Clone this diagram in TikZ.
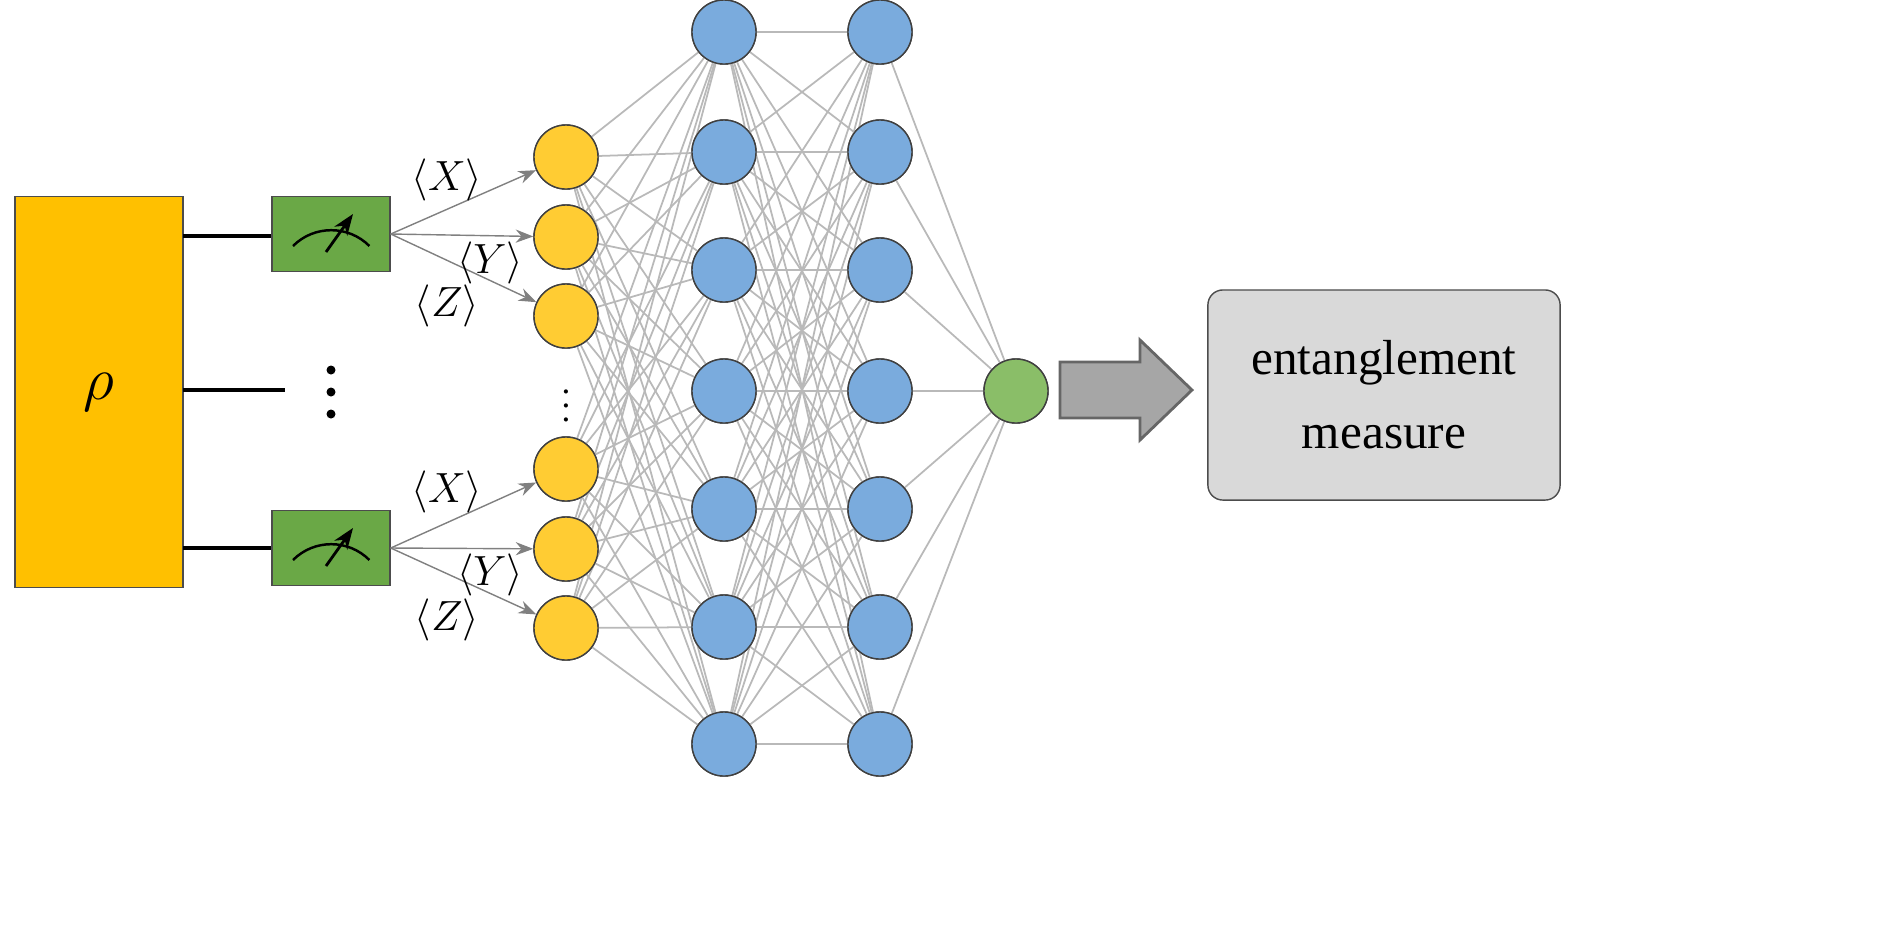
\documentclass[tikz,border=0pt]{standalone}
\usepackage{fontspec}
\setmainfont{Liberation Serif}
\usetikzlibrary{arrows.meta}
\definecolor{rhoc}{RGB}{255,192,0}
\definecolor{inpc}{RGB}{255,204,51}
\definecolor{hidc}{RGB}{122,171,221}
\definecolor{outc}{RGB}{138,190,104}
\definecolor{meterc}{RGB}{106,168,70}
\begin{document}
\begin{tikzpicture}[x=0.01cm,y=-0.01cm]
    \tikzset{
        neuron/.style = {
            draw = black!75,
            circle,
            inner sep = 0pt,
            minimum size = 0.64cm
        },
        inp/.style = {neuron, fill = inpc},
        hid/.style = {neuron, fill = hidc},
        outn/.style = {neuron, fill = outc},
        wire/.style = {gray!55, line width = 0.5pt},
        meter/.style = {draw = black!70, fill = meterc, minimum width = 1.18cm, minimum height = 0.75cm, inner sep = 0pt},
        lbl/.style = {font = \fontsize{12}{14}\selectfont}
    }
    \useasboundingbox (0,0) rectangle (1881,935);

    % state
    \node[draw = black!70, fill = rhoc, minimum width = 1.68cm, minimum height = 3.91cm, inner sep = 0pt] (rho) at (99,392) {\fontsize{18}{22}\selectfont$\rho$};

    % measurements
    \node[meter] (m1) at (331,234) {};
    \node[meter] (m2) at (331,548) {};
    \foreach \m in {m1, m2}{
        \draw[line width = 0.7pt] ([shift = {(-38,12)}]\m.center) arc[start angle = 135, end angle = 45, radius = 0.54cm];
        \draw[-{Stealth[length = 6pt]}, line width = 0.8pt] ([shift = {(-5,18)}]\m.center) -- ([shift = {(22,-20)}]\m.center);
    }
    \coordinate (w1) at (183,236);
    \coordinate (w2) at (183,390);
    \coordinate (w3) at (183,548);
    \coordinate (w2e) at (285,390);
    \draw[line width = 1.2pt] (w1) -- (w1 -| m1.west);
    \draw[line width = 1.2pt] (w3) -- (w3 -| m2.west);
    \draw[line width = 1.2pt] (w2) -- (w2e);
    \foreach \y in {370, 392, 414}{
        \fill (331,\y) circle (0.045cm);
    }

    % input layer
    \foreach \y [count = \i] in {157, 237, 316, 469, 549, 628}{
        \node[inp] (a\i) at (566,\y) {};
    }
    \node[font = \fontsize{10}{12}\selectfont] (vd) at (566,395) {$\vdots$};
    \foreach \y [count = \i] in {32, 152, 270, 391, 509, 627, 744}{
        \node[hid] (b\i) at (724,\y) {};
        \node[hid] (c\i) at (880,\y) {};
    }
    \node[outn] (o) at (1016,391) {};

    % meter arrows
    \foreach \m/\s in {m1/0, m2/3}{
        \foreach \k in {1, 2, 3}{
            \pgfmathtruncatemacro{\t}{\s + \k}
            \draw[gray, -{Stealth[length = 5pt]}] (\m.east) -- (a\t);
        }
    }
    \node[lbl] (x1) at (447,180) {$\langle X\rangle$};
    \node[lbl] (y1) at (490,263) {$\langle Y\rangle$};
    \node[lbl] (z1) at (447,306) {$\langle Z\rangle$};
    \node[lbl] (x2) at (447,492) {$\langle X\rangle$};
    \node[lbl] (y2) at (490,575) {$\langle Y\rangle$};
    \node[lbl] (z2) at (447,620) {$\langle Z\rangle$};

    % connections
    \foreach \i in {1, ..., 6}{
        \foreach \j in {1, ..., 7}{
            \draw[wire] (a\i) -- (b\j);
        }
    }
    \foreach \i in {1, ..., 7}{
        \foreach \j in {1, ..., 7}{
            \draw[wire] (b\i) -- (c\j);
        }
        \draw[wire] (c\i) -- (o);
    }
    \foreach \i in {1, ..., 6}{
        \node[inp] at (a\i) {};
    }
    \foreach \i in {1, ..., 7}{
        \node[hid] at (b\i) {};
        \node[hid] at (c\i) {};
    }
    \node[outn] at (o) {};

    % result
    \draw[draw = black!60, fill = gray!70, line width = 0.8pt]
        (1060,362) -- (1140,362) -- (1140,340) -- (1192,390) -- (1140,440) -- (1140,418) -- (1060,418) -- cycle;
    \node[draw = black!70, fill = gray!30, rounded corners = 0.15cm, minimum width = 3.52cm, minimum height = 2.1cm, align = center, font = \fontsize{14}{21}\selectfont] (res) at (1384,395) {entanglement\\measure};
\end{tikzpicture}
\end{document}
